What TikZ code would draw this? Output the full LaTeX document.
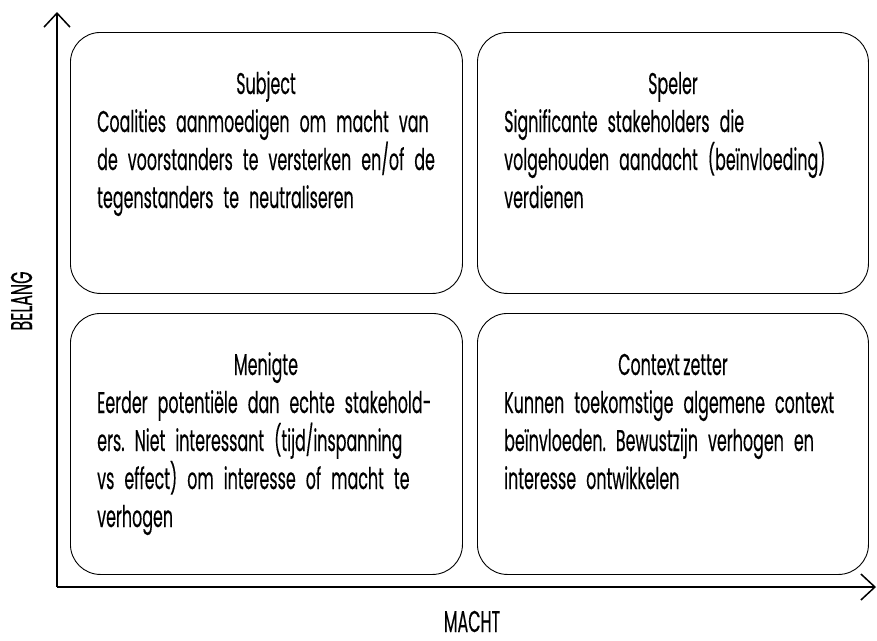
\documentclass[tikz,border=0pt]{standalone}
\usepackage{fontspec}
\setmainfont[FakeStretch=0.53, WordSpace=0.8, FakeBold=0.3]{Poppins}
\usetikzlibrary{arrows.meta}
\frenchspacing
\begin{document}
\begin{tikzpicture}[x=1pt,y=-1pt,
  quad/.style={draw=black, line width=0.9pt, rounded corners=30pt, minimum width=392pt, minimum height=261pt, inner sep=0pt, anchor=north west},
  ttl/.style={anchor=base, inner sep=0pt, font=\fontsize{30}{38}\selectfont},
  body/.style={anchor=base west, inner sep=0pt, align=left, text width=360pt, font=\fontsize{30}{38}\selectfont},
  axis/.style={line width=1.8pt, -{Straight Barb[length=14pt, width=26pt, line width=1.5pt]}},
  lbl/.style={inner sep=0pt, text depth=0pt, font=\fontsize{30}{32}\selectfont}]
\useasboundingbox (0,0) rectangle (877,640);
% boxes
\node[quad] (tl) at (70,32) {};
\node[quad, minimum width=391pt] (tr) at (477,32) {};
\node[quad] (bl) at (70,313) {};
\node[quad, minimum width=391pt] (br) at (477,313) {};
% titles
\node[ttl] (tlt) at (266,94) {Subject};
\node[ttl] (trt) at (673,94) {Speler};
\node[ttl] (blt) at (266,375) {Menigte};
\node[ttl] (brt) at (673,375) {Context zetter};
% bodies
\node[body] (tlb) at (97,132) {Coalities aanmoedigen om macht van\\de voorstanders te versterken en/of de\\tegenstanders te neutraliseren};
\node[body] (trb) at (504,132) {Significante stakeholders die\\volgehouden aandacht (beïnvloeding)\\verdienen};
\node[body] (blb) at (97,413) {Eerder potentiële dan echte stakehold-\\ers. Niet interessant (tijd/inspanning\\vs effect) om interesse of macht te\\verhogen};
\node[body] (brb) at (504,413) {Kunnen toekomstige algemene context\\beïnvloeden. Bewustzijn verhogen en\\interesse ontwikkelen};
% axes
\coordinate (o) at (57,587);
\coordinate (ytip) at (57,12);
\coordinate (xtip) at (876,587);
\draw[axis] (o) -- (ytip);
\draw[axis] (o) -- (xtip);
\node[lbl, rotate=90, anchor=base] (ylab) at (32,301) {BELANG};
\node[lbl, anchor=base] (xlab) at (472,632) {MACHT};
\end{tikzpicture}
\end{document}
